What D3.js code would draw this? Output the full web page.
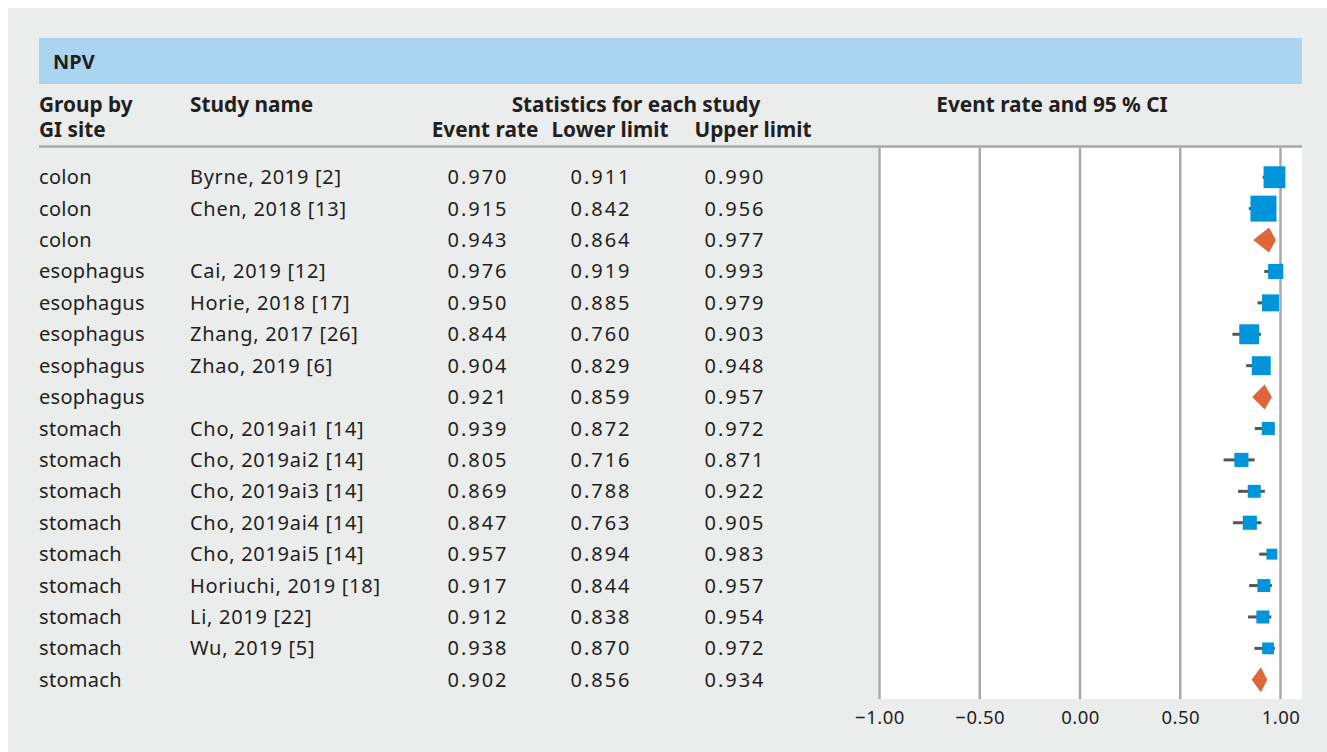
<!DOCTYPE html>
<html><head><meta charset="utf-8">
<script src="https://cdn.jsdelivr.net/npm/d3@7"></script>
<style>html,body{margin:0;padding:0;background:#fff;}svg{display:block;}</style>
</head><body>
<svg id="chart" width="1327" height="752"></svg>
<script>
const groups = ["colon","colon","colon","esophagus","esophagus","esophagus","esophagus","esophagus","stomach","stomach","stomach","stomach","stomach","stomach","stomach","stomach","stomach"];
const studies = ["Byrne, 2019 [2]","Chen, 2018 [13]","","Cai, 2019 [12]","Horie, 2018 [17]","Zhang, 2017 [26]","Zhao, 2019 [6]","","Cho, 2019ai1 [14]","Cho, 2019ai2 [14]","Cho, 2019ai3 [14]","Cho, 2019ai4 [14]","Cho, 2019ai5 [14]","Horiuchi, 2019 [18]","Li, 2019 [22]","Wu, 2019 [5]",""];
const eventRate = [0.970,0.915,0.943,0.976,0.950,0.844,0.904,0.921,0.939,0.805,0.869,0.847,0.957,0.917,0.912,0.938,0.902];
const lowerLimit = [0.911,0.842,0.864,0.919,0.885,0.760,0.829,0.859,0.872,0.716,0.788,0.763,0.894,0.844,0.838,0.870,0.856];
const upperLimit = [0.990,0.956,0.977,0.993,0.979,0.903,0.948,0.957,0.972,0.871,0.922,0.905,0.983,0.957,0.954,0.972,0.934];
const isSummary = [false,false,true,false,false,false,false,true,false,false,false,false,false,false,false,false,true];
const weights = [4.8,6.8,0,2.3,2.9,4.0,3.6,0,1.7,2.0,1.7,2.0,1.2,1.7,1.7,1.4,0];
const xTicks = [-1,-0.5,0,0.5,1];

const svg = d3.select("#chart");
const font = "'Noto Sans', 'Open Sans', sans-serif";
const txt = "#231f20";

// backgrounds
svg.append("rect").attr("x",8).attr("y",8).attr("width",1319).attr("height",744).attr("fill","#ebecec");
svg.append("rect").attr("x",39).attr("y",38).attr("width",1263).attr("height",46).attr("fill","#abd4f0");
svg.append("text").attr("x",53).attr("y",68.5).text("NPV").attr("font-family",font).attr("font-weight","bold").attr("font-size",20).attr("fill",txt);

// headers
const hdr = (x,y,t,anchor) => svg.append("text").attr("x",x).attr("y",y).text(t)
  .attr("font-family",font).attr("font-weight","bold").attr("font-size",20.8).attr("fill",txt).attr("text-anchor",anchor||"start");
hdr(39,112,"Group by");
hdr(39,137,"GI site");
hdr(190,112,"Study name");
hdr(636,112,"Statistics for each study","middle");
hdr(485,137,"Event rate","middle");
hdr(610,137,"Lower limit","middle");
hdr(753,137,"Upper limit","middle");
hdr(1052,112,"Event rate and 95 % CI","middle");

// plot area
const x = d3.scaleLinear().domain([-1,1]).range([879.5,1280.5]);
const y = d3.scaleBand().domain(d3.range(groups.length)).range([161.5,695.5]);
const size = d3.scaleSqrt().domain([0,d3.max(weights)]).range([0,26]);
const plotTop = 148, plotBottom = 699;

svg.append("rect").attr("x",878).attr("y",plotTop).attr("width",424).attr("height",plotBottom-plotTop).attr("fill","#ffffff");
svg.append("line").attr("x1",39).attr("x2",1302).attr("y1",146.5).attr("y2",146.5).attr("stroke","#a7a9ac").attr("stroke-width",2.5);

const axis = d3.axisBottom(x).tickValues(xTicks).tickSize(0).tickPadding(0)
  .tickFormat(d => d3.format(".2f")(d).replace("-","\u2013"));
const ax = svg.append("g").attr("transform",`translate(0,${plotBottom})`).call(axis);
ax.select(".domain").remove();
ax.selectAll("text").attr("y",25).attr("dy",0).attr("font-family",font).attr("font-size",18.5).attr("fill",txt).attr("letter-spacing",0.5);
svg.append("g").selectAll("line").data(xTicks).join("line")
  .attr("x1",d=>x(d)).attr("x2",d=>x(d)).attr("y1",plotTop).attr("y2",plotBottom)
  .attr("stroke","#a7a9ac").attr("stroke-width",2.5);

// table rows
const rows = svg.append("g").selectAll("g").data(d3.range(groups.length)).join("g")
  .attr("transform",i=>`translate(0,${y(i)+y.bandwidth()/2})`);
const cell = (sel, xp, f, anchor, ls) => sel.append("text").attr("x",xp).attr("y",7).text(f)
  .attr("font-family",font).attr("font-size",20).attr("fill",txt).attr("text-anchor",anchor||"start")
  .attr("letter-spacing",ls);
cell(rows,39,i=>groups[i],"start",0.3);
cell(rows,190,i=>studies[i],"start",0.7);
cell(rows,478,i=>eventRate[i].toFixed(3),"middle",2);
cell(rows,601,i=>lowerLimit[i].toFixed(3),"middle",2);
cell(rows,735,i=>upperLimit[i].toFixed(3),"middle",2);

// CI lines
rows.filter(i=>!isSummary[i]).append("line")
  .attr("x1",i=>x(lowerLimit[i])).attr("x2",i=>x(upperLimit[i])).attr("y1",0).attr("y2",0)
  .attr("stroke","#555555").attr("stroke-width",3);
// squares
rows.filter(i=>!isSummary[i]).append("rect")
  .attr("x",i=>x(eventRate[i])-size(weights[i])/2).attr("y",i=>-size(weights[i])/2)
  .attr("width",i=>size(weights[i])).attr("height",i=>size(weights[i]))
  .attr("fill","#0095da");
// diamonds
rows.filter(i=>isSummary[i]).append("path")
  .attr("d",i=>`M${x(lowerLimit[i])},0L${x(eventRate[i])},-12.5L${x(upperLimit[i])},0L${x(eventRate[i])},12.5Z`)
  .attr("fill","#e0653a");
</script>
</body></html>
